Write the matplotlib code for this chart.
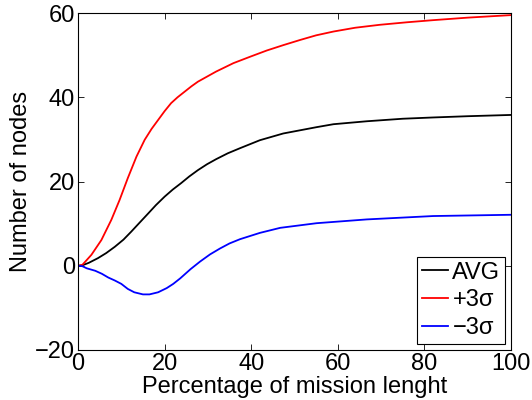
import numpy as np
import matplotlib
matplotlib.use('Agg')
import matplotlib.pyplot as plt

plt.rcParams['font.family'] = ['Liberation Sans', 'DejaVu Sans']
plt.rcParams['axes.unicode_minus'] = True

# values (x in % of mission, y in nodes)
avg_x = [0, 1, 2.5, 4.6, 6.5, 8.5, 10.5, 12.3, 14.2, 16.2, 18, 20, 21.9, 23.8, 25.7,
         27.7, 29.8, 31.9, 34.6, 37.4, 42, 47.4, 55.1, 59, 66.7, 75, 82, 90, 100]
avg_y = [0, 0.1, 0.7, 1.8, 3.0, 4.5, 6.2, 8.1, 10.2, 12.4, 14.4, 16.4, 18.1, 19.6, 21.2,
         22.7, 24.1, 25.3, 26.7, 27.9, 29.8, 31.4, 32.9, 33.6, 34.3, 34.9, 35.2, 35.5, 35.8]

plus_x = [0, 1, 3.1, 5.4, 7.7, 9.6, 11.5, 13.5, 15.4, 17, 18.5, 20, 21.5, 23, 24.6,
          26.2, 27.7, 29.8, 31.9, 35.9, 39.7, 43.6, 47.5, 51.3, 55, 59, 64, 69.7, 76,
          82, 90, 100]
plus_y = [0, 0.2, 2.6, 6.1, 10.9, 15.6, 20.8, 25.9, 29.9, 32.5, 34.6, 36.7, 38.6, 40.0, 41.3,
          42.6, 43.7, 44.9, 46.1, 48.1, 49.6, 51.1, 52.4, 53.6, 54.7, 55.6, 56.5, 57.2, 57.8,
          58.3, 58.9, 59.5]

minus_x = [0, 1, 2, 4, 5.5, 7, 8.5, 10, 11.5, 13, 15, 16.5, 18.5, 20.5, 22, 23.6, 26,
           28.2, 30.5, 32.8, 35, 37.4, 42, 46.7, 55.1, 66.7, 82, 100]
minus_y = [0, -0.1, -0.6, -1.2, -1.9, -2.8, -3.5, -4.3, -5.5, -6.3, -6.8, -6.8, -6.3, -5.3, -4.3,
           -3.0, -0.8, 1.0, 2.7, 4.1, 5.3, 6.3, 7.8, 9.0, 10.1, 11.0, 11.8, 12.1]

labels = ['AVG', '+3\u03c3', '\u22123\u03c3']

fig = plt.figure(figsize=(5.32, 4.0), dpi=100)
ax = fig.add_axes([78 / 532, 50 / 400, 433 / 532, 337 / 400])

ax.plot(avg_x, avg_y, color='black', lw=1.3, label=labels[0])
ax.plot(plus_x, plus_y, color='red', lw=1.3, label=labels[1])
ax.plot(minus_x, minus_y, color='blue', lw=1.3, label=labels[2])

ax.set_xlim(0, 100)
ax.set_ylim(-20, 60)
ax.set_xticks([0, 20, 40, 60, 80, 100])
ax.set_yticks([-20, 0, 20, 40, 60])
ax.tick_params(direction='in', top=True, right=True, length=4, width=0.6,
               labelsize=17, pad=2)
for s in ax.spines.values():
    s.set_linewidth(0.8)

ax.set_xlabel('Percentage of mission lenght', fontsize=17, labelpad=1)
ax.set_ylabel('Number of nodes', fontsize=17, labelpad=2)

leg = ax.legend(loc='lower right', fontsize=17, fancybox=False, framealpha=1,
                edgecolor='black', handlelength=1.1, handletextpad=0.2,
                borderaxespad=0.25, borderpad=0.2, labelspacing=0.25)
leg.get_frame().set_linewidth(0.8)

fig.savefig('out.png', dpi=100)
